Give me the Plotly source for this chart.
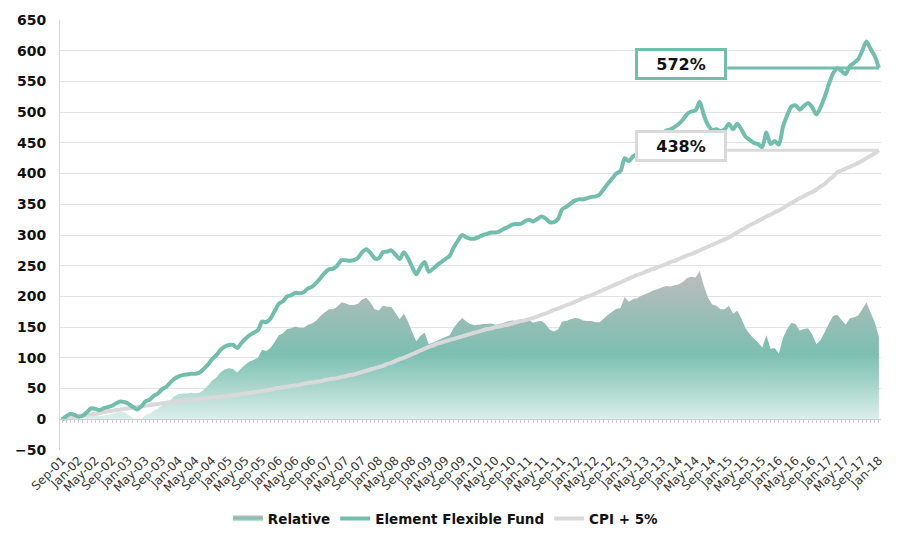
import pandas as pd
import plotly.graph_objects as go

# Monthly categories Sep-01 .. Jan-18
months = pd.date_range("2001-09-01", "2018-01-01", freq="MS").strftime("%b-%y").tolist()
tick_labels = months[::4]

# Element Flexible Fund cumulative return (%)
fund = [
    0, 5, 9, 7, 4, 6, 12, 18, 17, 15,
    18, 20, 22, 26, 29, 28, 25, 20, 16, 21,
    29, 32, 38, 42, 49, 53, 60, 66, 70, 72,
    73, 74, 74, 76, 82, 89, 98, 104, 113, 118,
    121, 121, 116, 124, 131, 137, 141, 145, 159, 158,
    164, 176, 188, 192, 200, 202, 206, 205, 207, 213,
    216, 222, 230, 238, 244, 245, 250, 259, 259, 258,
    259, 263, 272, 277, 271, 262, 262, 272, 273, 275,
    268, 261, 272, 262, 248, 236, 248, 256, 240, 245,
    251, 256, 261, 266, 280, 291, 300, 296, 294, 294,
    297, 300, 302, 304, 304, 306, 310, 313, 317, 318,
    318, 322, 325, 322, 326, 330, 327, 321, 321, 326,
    342, 346, 351, 356, 358, 358, 360, 362, 363, 366,
    375, 384, 392, 400, 404, 425, 420, 428, 432, 438,
    444, 450, 455, 460, 465, 470, 472, 476, 481, 488,
    497, 501, 503, 517, 495, 479, 471, 472, 469, 472,
    481, 472, 481, 472, 460, 455, 450, 448, 443, 467,
    448, 453, 447, 477, 495, 509, 511, 504, 510, 515,
    508, 496, 508, 525, 546, 563, 572, 567, 562, 575,
    580, 586, 600, 615, 603, 591, 572,
]

# CPI + 5% cumulative (%)
cpi = [
    0, 1, 2, 4, 5, 6, 7, 8, 9, 10,
    12, 13, 14, 15, 16, 17, 18, 19, 20, 21,
    22, 23, 24, 25, 26, 27, 28, 28, 29, 30,
    31, 31, 32, 33, 34, 34, 35, 36, 37, 37,
    38, 39, 40, 41, 42, 43, 44, 45, 46, 47,
    48, 50, 51, 52, 53, 54, 55, 56, 58, 59,
    60, 61, 62, 64, 65, 66, 67, 69, 70, 72,
    73, 75, 77, 79, 81, 83, 85, 87, 90, 92,
    95, 98, 100, 103, 106, 109, 112, 115, 118, 120,
    123, 125, 127, 129, 131, 133, 135, 137, 139, 141,
    143, 145, 147, 148, 150, 151, 153, 154, 156, 158,
    160, 161, 163, 165, 167, 170, 172, 175, 178, 180,
    183, 186, 188, 191, 194, 197, 200, 202, 205, 208,
    211, 214, 217, 220, 223, 226, 229, 232, 235, 237,
    240, 243, 245, 248, 250, 253, 256, 258, 261, 264,
    267, 269, 272, 275, 278, 281, 284, 287, 290, 293,
    296, 300, 304, 308, 312, 316, 319, 323, 326, 330,
    333, 337, 340, 344, 348, 352, 356, 360, 363, 367,
    370, 374, 379, 383, 390, 395, 402, 405, 408, 411,
    414, 417, 421, 425, 429, 433, 438,
]

# Relative (fund minus CPI + 5%)
relative = [
    0, 4, 7, 3, -1, 0, 5, 10, 8, 5,
    6, 7, 8, 11, 13, 11, 7, 1, -4, 0,
    7, 9, 14, 17, 23, 26, 32, 38, 41, 42,
    42, 43, 42, 43, 48, 55, 63, 68, 76, 81,
    83, 82, 76, 83, 89, 94, 97, 100, 113, 111,
    116, 126, 137, 140, 147, 148, 151, 149, 149, 154,
    156, 161, 168, 174, 179, 179, 183, 190, 189, 186,
    186, 188, 195, 198, 190, 179, 177, 185, 183, 183,
    173, 163, 172, 159, 142, 127, 136, 141, 122, 125,
    128, 131, 134, 137, 149, 158, 165, 159, 155, 153,
    154, 155, 155, 156, 154, 155, 157, 159, 161, 160,
    158, 161, 162, 157, 159, 160, 155, 146, 143, 146,
    159, 160, 163, 165, 164, 161, 160, 160, 158, 158,
    164, 170, 175, 180, 181, 199, 191, 196, 197, 201,
    204, 207, 210, 212, 215, 217, 216, 218, 220, 224,
    230, 232, 231, 242, 217, 198, 187, 185, 179, 179,
    185, 172, 177, 164, 148, 139, 131, 125, 117, 137,
    115, 116, 107, 133, 147, 157, 155, 144, 147, 148,
    138, 122, 129, 142, 156, 168, 170, 162, 154, 164,
    166, 169, 179, 190, 174, 158, 134,
]

TEAL = "#72bead"
GREY = "#d9d9d9"
FONT = "DejaVu Sans"

fig = go.Figure()

fig.add_trace(go.Scatter(
    x=months, y=relative, name="Relative", mode="none",
    fill="tozeroy",
    fillgradient=dict(
        type="vertical", start=0, stop=240,
        colorscale=[[0, "#e4f2ef"], [0.25, "#a9d6cc"], [0.47, "#7cbfb1"],
                    [0.75, "#9dbdb6"], [1, "#bbbcbc"]],
    ),
    legendrank=1,
))
fig.add_trace(go.Scatter(
    x=months, y=cpi, name="CPI + 5%", mode="lines",
    line=dict(color=GREY, width=4, shape="spline", smoothing=0.6),
    legendrank=3,
))
fig.add_trace(go.Scatter(
    x=months, y=fund, name="Element Flexible Fund", mode="lines",
    line=dict(color=TEAL, width=4, shape="spline", smoothing=0.7),
    legendrank=2,
))
# helper trace for the zero axis with monthly ticks
fig.add_trace(go.Scatter(
    x=[0, len(months) - 1], y=[0, 0], xaxis="x2", mode="lines",
    line=dict(color="rgba(0,0,0,0)", width=0), showlegend=False, hoverinfo="skip",
))

n = len(months)
fig.update_layout(
    width=900, height=560,
    margin=dict(l=60, r=19, t=15, b=110),
    paper_bgcolor="white", plot_bgcolor="white",
    font=dict(family=FONT, color="#222"),
    showlegend=True,
    legend=dict(
        orientation="h", x=0.47, xanchor="center", y=-0.16, yanchor="middle",
        font=dict(family=FONT, size=13.5, weight="bold", color="#111"),
        itemwidth=30, traceorder="normal",
    ),
    xaxis=dict(
        type="category", range=[-0.5, n - 0.5],
        tickmode="array", tickvals=tick_labels, ticktext=tick_labels,
        tickangle=-45, tickfont=dict(family=FONT, size=12, color="#333"),
        showgrid=False, showline=False, ticks="", zeroline=False,
    ),
    xaxis2=dict(
        type="linear", overlaying="x", anchor="free", position=50 / 700,
        range=[-0.5, n - 0.5], tick0=0, dtick=1,
        ticks="outside", ticklen=3, tickcolor="#cfcfcf",
        showticklabels=False, showgrid=False, showline=True,
        linecolor="#cfcfcf", linewidth=1, zeroline=False,
    ),
    yaxis=dict(
        range=[-50, 650], tick0=-50, dtick=50,
        tickfont=dict(family=FONT, size=14, weight="bold", color="#111"),
        showgrid=True, gridcolor="#e2e2e2", gridwidth=1,
        showline=True, linecolor="#d6d6d6", linewidth=1,
        zeroline=False, ticks="", ticklabelstandoff=10,
    ),
)

# end-value callouts
box_x = 148.5
line_x0 = 159.6
for val, col in [(fund[-1], TEAL), (cpi[-1], GREY)]:
    fig.add_shape(type="line", xref="x", yref="y", x0=line_x0, x1=n - 1,
                  y0=val, y1=val, line=dict(color=col, width=3), layer="above")
    fig.add_annotation(
        x=box_x, y=val, xref="x", yref="y", yshift=4, text=f"{val}%", showarrow=False,
        font=dict(family=FONT, size=16, weight="bold", color="#111"),
        bgcolor="white", bordercolor=col, borderwidth=3, borderpad=2,
        width=82, height=22,
    )

fig.write_html(
    "out.html",
    config={"displayModeBar": False},
    post_script="document.body.style.margin='0';document.body.style.overflow='hidden';",
)
